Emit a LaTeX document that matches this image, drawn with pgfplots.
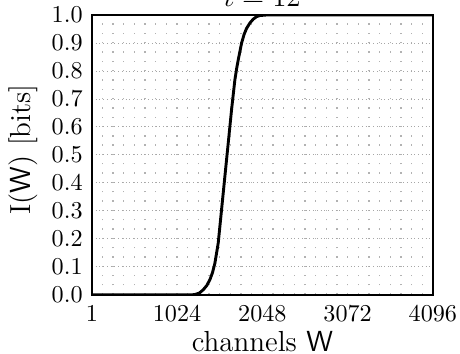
\documentclass[border=0pt]{standalone}
\usepackage{pgfplots}
\pgfplotsset{compat=1.18}

\begin{document}
\begin{tikzpicture}
\begin{axis}[
    name=ax,
    scale only axis,
    width=141pt, height=115.7pt,
    xmin=1, xmax=4096, ymin=0, ymax=1,
    xtick={1,1024,2048,3072,4096},
    minor xtick={128,256,...,3968},
    ytick={0,0.1,...,1.0},
    yticklabel style={xshift=-0.3pt,/pgf/number format/.cd,fixed,fixed zerofill,precision=1},
    xticklabel style={yshift=-1.2pt,/pgf/number format/.cd,1000 sep={}},
    major tick length=0pt, minor tick length=0pt,
    grid=both,
    major grid style={gray!70, line width=0.35pt, dash pattern=on 0.35pt off 1.2pt},
    minor grid style={gray!60, line width=0.55pt, dash pattern=on 0.55pt off 3.3pt},
    major x grid style={gray!60, line width=0.55pt, dash pattern=on 0.55pt off 3.3pt},
    axis line style={line width=1pt},
    xlabel={\large channels \textsf{W}},
    ylabel={\large I(\textsf{W}) [bits]},
    xlabel style={at={(axis description cs:0.5,0)}, anchor=base, yshift=-23.4pt},
    ylabel style={at={(axis description cs:-0.2008,0.52)}, anchor=center},
    title={\large $\iota = 12$},
    title style={at={(axis description cs:0.5,1)}, anchor=base, yshift=-2.3pt},
]
\addplot[black, line width=1.2pt] coordinates {
    (1,0) (1200,0) (1238,0.001) (1290,0.006) (1338,0.018) (1380,0.033)
    (1418,0.054) (1450,0.08) (1478,0.113) (1518,0.185) (1558,0.304)
    (1598,0.423) (1638,0.542) (1678,0.661) (1718,0.768) (1740,0.81)
    (1758,0.839) (1798,0.899) (1828,0.93) (1858,0.952) (1900,0.972)
    (1938,0.985) (1978,0.994) (2018,0.998) (2098,1.0) (4096,1.0)
};
\end{axis}
\pgfresetboundingbox
\path[use as bounding box] ([xshift=-38pt,yshift=-24.4pt]ax.south west)
    rectangle ([xshift=11.2pt,yshift=6.2pt]ax.north east);
\end{tikzpicture}
\end{document}
